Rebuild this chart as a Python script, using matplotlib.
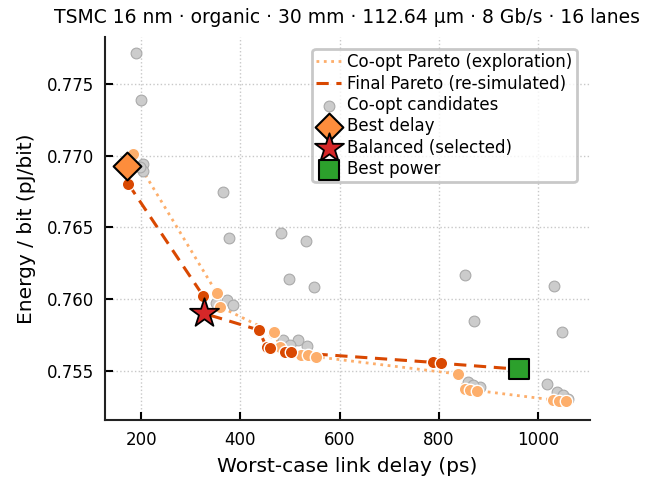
import matplotlib
matplotlib.use("Agg")
import matplotlib.pyplot as plt

# Co-opt candidates (gray)
cand_x = [189, 200, 364, 378, 481, 532, 499, 549, 854, 1033, 871, 1049,
          204, 203, 198, 372, 385, 350, 486, 517, 534, 500,
          860, 883, 870, 1018, 1038, 1050, 1060]
cand_y = [0.77715, 0.77388, 0.76746, 0.76423, 0.7646, 0.76407, 0.76139, 0.76082,
          0.7617, 0.7609, 0.7585, 0.7577,
          0.7694, 0.76895, 0.7692, 0.75992, 0.75958, 0.7597, 0.75714, 0.75714,
          0.75672, 0.7568,
          0.75423, 0.75388, 0.7540, 0.75405, 0.75354, 0.7533, 0.7530]

# Co-opt Pareto (exploration)
exp_x = [172, 178, 183, 352, 359, 466, 468, 480, 523, 537, 553,
         839, 853, 864, 878, 1031, 1043, 1056]
exp_y = [0.7693, 0.7698, 0.7701, 0.76044, 0.75946, 0.75765, 0.7577, 0.75663,
         0.7561, 0.7561, 0.75597,
         0.75477, 0.75372, 0.75365, 0.75361, 0.75296, 0.75291, 0.75287]

# Final Pareto (re-simulated)
fin_x = [174, 325, 326, 437, 453, 460, 490, 503, 789, 804, 962]
fin_y = [0.76802, 0.76021, 0.7590, 0.75784, 0.75663, 0.7566, 0.75633, 0.75628,
         0.75558, 0.75552, 0.7551]

best_delay = (172, 0.7693)
balanced = (326, 0.7590)
best_power = (962, 0.7551)

fig = plt.figure(figsize=(6.65, 4.8), dpi=100)
ax = fig.add_axes([0.158, 0.125, 0.729, 0.798])

ax.grid(True, linestyle=":", color="#c8c8c8", linewidth=1.0)
ax.set_axisbelow(True)

ax.plot(exp_x, exp_y, linestyle=":", color="#fdae6b", linewidth=2.0,
        label="Co-opt Pareto (exploration)", zorder=2)
ax.plot(fin_x, fin_y, linestyle="--", color="#d94801", linewidth=2.2,
        label="Final Pareto (re-simulated)", zorder=3, dashes=(4, 2.5))
ax.scatter(cand_x, cand_y, s=60, color="#cccccc", edgecolors="#aaaaaa",
           linewidths=0.8, label="Co-opt candidates", zorder=2)
ax.scatter(exp_x, exp_y, s=80, color="#fdae6b", edgecolors="white",
           linewidths=1.0, zorder=4)
ax.scatter(fin_x, fin_y, s=80, color="#d94801", edgecolors="white",
           linewidths=1.0, zorder=5)
ax.scatter([best_delay[0]], [best_delay[1]], marker="D", s=200,
           color="#fd8d3c", edgecolors="black", linewidths=1.5,
           label="Best delay", zorder=6)
ax.scatter([balanced[0]], [balanced[1]], marker="*", s=480,
           color="#d62728", edgecolors="black", linewidths=1.3,
           label="Balanced (selected)", zorder=7)
ax.scatter([best_power[0]], [best_power[1]], marker="s", s=190,
           color="#2ca02c", edgecolors="black", linewidths=1.5,
           label="Best power", zorder=6)

ax.set_xlim(127, 1105)
ax.set_ylim(0.75156, 0.77828)
ax.set_xticks([200, 400, 600, 800, 1000])
ax.set_yticks([0.755, 0.760, 0.765, 0.770, 0.775])
ax.set_yticklabels(["0.755", "0.760", "0.765", "0.770", "0.775"])

for s in ["top", "right"]:
    ax.spines[s].set_visible(False)
for s in ["left", "bottom"]:
    ax.spines[s].set_linewidth(1.5)
    ax.spines[s].set_color("#222222")
ax.tick_params(direction="in", length=6, width=1.5, labelsize=12, pad=8)

ax.set_xlabel("Worst-case link delay (ps)", fontsize=14.5, labelpad=6)
ax.set_ylabel("Energy / bit (pJ/bit)", fontsize=14.5, labelpad=8)
ax.set_title("TSMC 16 nm · organic · 30 mm · 112.64 µm · 8 Gb/s · 16 lanes",
             fontsize=13.5, pad=10)

leg = ax.legend(loc="upper right", fontsize=12, frameon=True, fancybox=True,
                borderpad=0.25, labelspacing=0.2, handlelength=1.45,
                handletextpad=0.4, bbox_to_anchor=(0.99, 0.99))
leg.get_frame().set_edgecolor("#bbbbbb")
leg.get_frame().set_linewidth(2.0)

fig.savefig("out.png", dpi=100)
